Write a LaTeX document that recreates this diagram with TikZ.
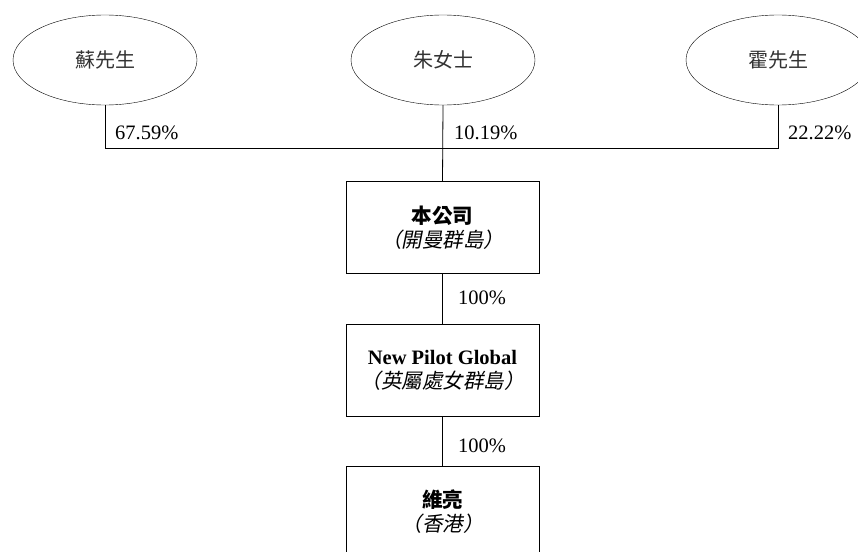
\documentclass[tikz,border=0pt]{standalone}
\usepackage{fontspec}
\setmainfont{Liberation Serif}
\newfontfamily\cjk{Noto Sans CJK TC}
\newfontfamily\cjkit[FakeSlant=0.2]{Noto Sans CJK TC}
\usetikzlibrary{shapes.geometric}

\tikzset{
	holder/.style={draw, ellipse, minimum width=184pt, minimum height=90pt, inner sep=0pt, font=\cjk\fontsize{20}{24}\selectfont, text=black!80},
	entity/.style={draw, rectangle, minimum width=193pt, minimum height=92pt, inner sep=0pt, align=center, font=\fontsize{20.5}{24}\selectfont},
	pct/.style={anchor=west, inner sep=0pt, font=\fontsize{20.5}{24}\selectfont},
	link/.style={line width=0.8pt}
}

\begin{document}
\begin{tikzpicture}[x=1pt, y=-1pt]
				\useasboundingbox (0, 0) rectangle (858, 551);
				\begin{scope}
				\clip (0, 0) rectangle (858, 551);
				\node[holder] (su) at (105, 60) {蘇先生};
				\node[holder] (zhu) at (443, 60) {朱女士};
				\node[holder] (huo) at (778, 60) {霍先生};
				\node[entity] (comp) at (442.5, 227.5) {{\cjk\bfseries 本公司}\\{\cjkit （開曼群島）}};
				\node[entity] (npg) at (442.5, 370) {\textbf{New Pilot Global}\\{\cjkit （英屬處女群島）}};
				\node[entity] (wl) at (442.5, 512) {{\cjk\bfseries 維亮}\\{\cjkit （香港）}};
				\end{scope}
				\coordinate (bar) at (443, 148);
				\draw[link] (su.south) -- (su.south |- bar) -- (huo.south |- bar) -- (huo.south);
				\draw[link] (zhu.south) -- (comp.north);
				\draw[link] (comp.south) -- (npg.north);
				\draw[link] (npg.south) -- (wl.north);
				\node[pct] (p-su) at (115, 133) {67.59\%};
				\node[pct] (p-zhu) at (454, 133) {10.19\%};
				\node[pct] (p-huo) at (788, 133) {22.22\%};
				\node[pct] (p-comp) at (458, 298) {100\%};
				\node[pct] (p-npg) at (458, 446) {100\%};
			\end{tikzpicture}
\end{document}
